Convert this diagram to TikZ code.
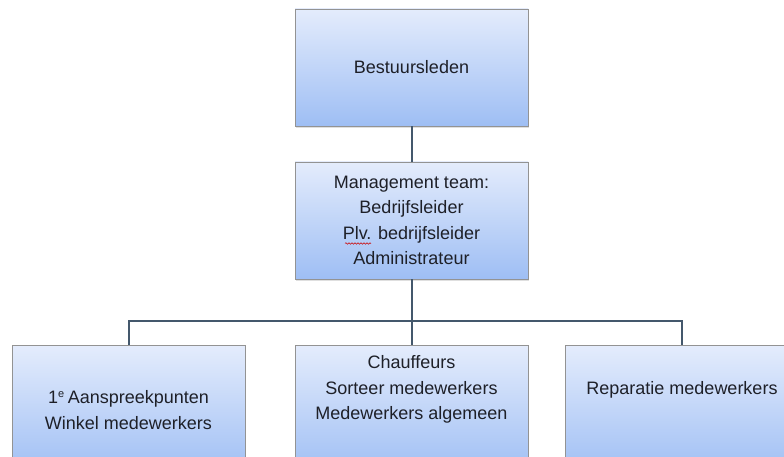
\documentclass[tikz,border=0pt]{standalone}
\usepackage{fontspec}
\setmainfont{Liberation Sans}
\usetikzlibrary{positioning, shadows, decorations.pathmorphing}
\definecolor{boxtop}{RGB}{228,236,252}
\definecolor{boxmid}{RGB}{208,222,250}
\definecolor{boxbot}{RGB}{158,190,244}
\definecolor{linkcol}{RGB}{68,88,108}
\definecolor{txtcol}{RGB}{30,32,40}
\tikzset{
  orgbox/.style={draw=gray!85, line width=.8pt,
    top color=boxtop, middle color=boxmid, bottom color=boxbot,
    minimum width=233pt, minimum height=117pt, inner sep=0pt,
    drop shadow={shadow xshift=1pt, shadow yshift=-2pt, opacity=.25}},
  orgtext/.style={font=\fontsize{18}{25.5}\selectfont, align=center, text=txtcol},
  link/.style={draw=linkcol, line width=2pt}
}

\begin{document}
\begin{tikzpicture}[x=1pt,y=-1pt]
\useasboundingbox (0,0) rectangle (784,457);
\fill[white] (0,0) rectangle (784,457);
% top levels
\node[orgbox, orgtext] (bestuur) at (411.5,67.5) {Bestuursleden};
\node[orgbox, orgtext] (mt) at (411.5,220.5) {Management team:\\Bedrijfsleider\\Plv. bedrijfsleider\\Administrateur};
% spelling mark under Plv.
\draw[red!80!black, line width=.5pt, decorate, decoration={snake, segment length=3pt, amplitude=.8pt}] (345,243.5) -- (371,243.5);
% bottom level
\node[orgbox, minimum height=130pt, anchor=north] (winkel) at (128.5,345) {};
\node[orgbox, minimum height=130pt, anchor=north] (sorteer) at (411.5,345) {};
\node[orgbox, minimum height=130pt, anchor=north] (reparatie) at (682,345) {};
\node[orgtext] (winkeltxt) at (128.5,410) {1\textsuperscript{\fontsize{11}{11}\selectfont e}\,Aanspreekpunten\\Winkel medewerkers};
\node[orgtext] (sorteertxt) at (411.5,389.5) {Chauffeurs\\Sorteer medewerkers\\Medewerkers algemeen};
\node[orgtext] (reparatietxt) at (682,390) {Reparatie medewerkers};
% connectors
\coordinate (bus) at (411.5,321);
\draw[link] (bestuur) -- (mt);
\draw[link] (mt) -- (bus);
\draw[link] (winkel.north) |- (bus) -| (reparatie.north);
\draw[link] (bus) -- (sorteer);
\end{tikzpicture}
\end{document}
